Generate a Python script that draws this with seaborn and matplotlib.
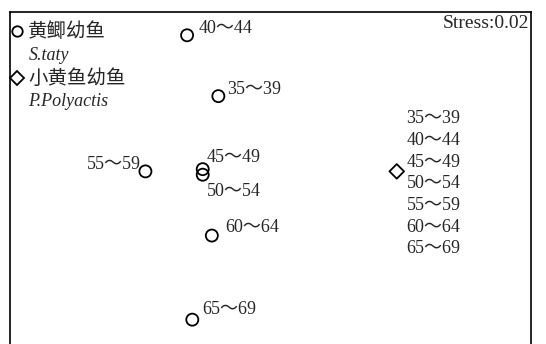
import pandas as pd
import matplotlib
matplotlib.use('Agg')
import matplotlib.pyplot as plt
from matplotlib.lines import Line2D
import seaborn as sns

# MDS coordinates
age_groups = ['35～39', '40～44', '45～49', '50～54', '55～59', '60～64', '65～69']
staty_x = [-0.40, -0.64, -0.52, -0.52, -0.96, -0.45, -0.60]
staty_y = [0.74, 1.29, 0.08, 0.03, 0.06, -0.52, -1.28]
poly_x = [0.97]
poly_y = [0.06]
stress_label = 'Stress:0.02'

# label offsets in points (dx, dy, ha)
label_offsets = {
    '35～39': (6, 5, 'left'),
    '40～44': (8.5, 5, 'left'),
    '45～49': (3, 8.5, 'left'),
    '50～54': (3, -12, 'left'),
    '55～59': (-3.5, 5, 'right'),
    '60～64': (9.5, 6, 'left'),
    '65～69': (7, 7, 'left'),
}

sns.set_style('white')
plt.rcParams['font.family'] = ['Liberation Serif', 'Noto Sans CJK SC']

staty = pd.DataFrame({'group': age_groups, 'x': staty_x, 'y': staty_y})
poly = pd.DataFrame({'x': poly_x, 'y': poly_y})

fig = plt.figure(figsize=(5.46, 3.44), dpi=100)
ax = fig.add_axes([0.0183, 0.0, 0.954, 0.965])

sns.scatterplot(data=staty, x='x', y='y', marker='o', s=75, facecolor='none',
                edgecolor='black', linewidth=1.3, ax=ax, zorder=3)
sns.scatterplot(data=poly, x='x', y='y', marker='D', s=55, facecolor='none',
                edgecolor='black', linewidth=1.3, ax=ax, zorder=3)

for g, xx, yy in zip(staty.group, staty.x, staty.y):
    dx, dy, ha = label_offsets[g]
    ax.annotate(g, (xx, yy), xytext=(dx, dy), textcoords='offset points',
                ha=ha, va='center', fontsize=13)

# all age groups share the single diamond
ax.annotate('\n'.join(age_groups), (poly_x[0], poly_y[0]), xytext=(7, -9),
            textcoords='offset points', ha='left', va='center', fontsize=13,
            linespacing=1.36)

ax.text(0.997, 0.99, stress_label, transform=ax.transAxes, ha='right', va='top',
        fontsize=14)

handles = [Line2D([], [], marker='o', ls='none', mfc='none', mec='black', ms=7.5, mew=1.3),
           Line2D([], [], ls='none'),
           Line2D([], [], marker='D', ls='none', mfc='none', mec='black', ms=7, mew=1.3),
           Line2D([], [], ls='none')]
labels = ['黄鲫幼鱼', 'S.taty', '小黄鱼幼鱼', 'P.Polyactis']
leg = ax.legend(handles, labels, loc='upper left', bbox_to_anchor=(0.004, 0.968),
                frameon=False, fontsize=13, handlelength=0.6, handletextpad=0.3,
                labelspacing=0.3, borderaxespad=0, borderpad=0)
for i, t in enumerate(leg.get_texts()):
    if i % 2:
        t.set_style('italic')
    else:
        t.set_fontsize(14)

ax.set_xlim(-2, 2)
ax.set_ylim(-1.5, 1.5)
ax.set_xticks([])
ax.set_yticks([])
ax.set_xlabel('')
ax.set_ylabel('')
ax.spines['bottom'].set_visible(False)
for s in ['left', 'right', 'top']:
    ax.spines[s].set_color('black')
    ax.spines[s].set_linewidth(1.2)

fig.savefig('out.png', dpi=100)
